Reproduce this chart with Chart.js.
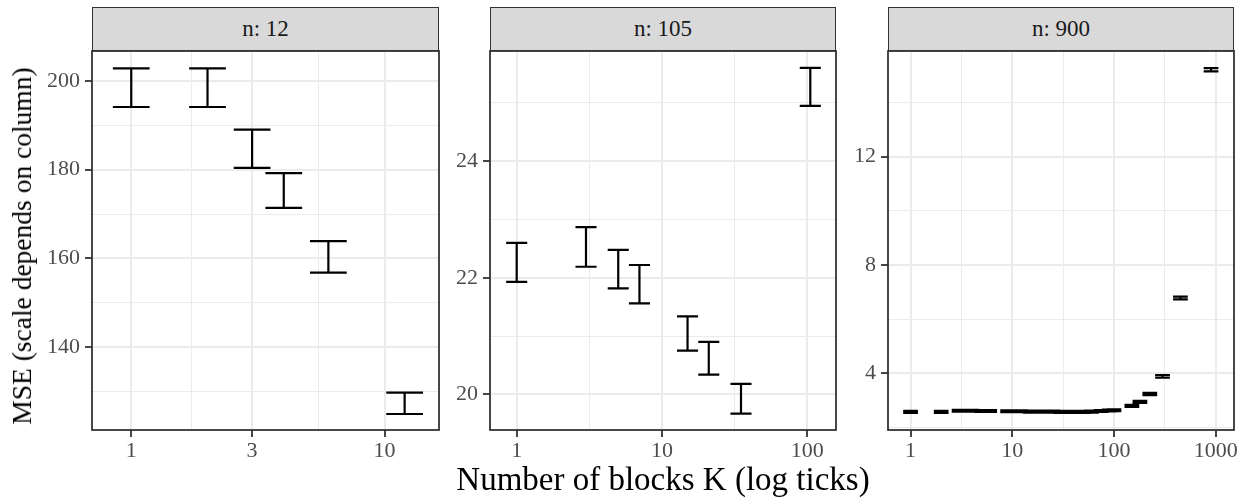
<!DOCTYPE html>
<html>
<head>
<meta charset="utf-8">
<script src="https://cdn.jsdelivr.net/npm/chart.js@4.4.1/dist/chart.umd.min.js"></script>
<style>
  html, body { margin: 0; padding: 0; background: #ffffff; }
  #wrap { position: relative; width: 1248px; height: 502px; overflow: hidden; font-family: "Liberation Serif", serif; }
  canvas { position: absolute; }
  .strip { position: absolute; top: 7px; height: 44px; background: #D9D9D9; border: 1.8px solid #333333; box-sizing: border-box;
           display: flex; align-items: center; justify-content: center; color: #1A1A1A; font-size: 23px; }
  .xtitle { position: absolute; left: 0; width: 1326px; top: 461px; text-align: center; font-size: 33px; color: #000; white-space: nowrap; }
  .ytitle { position: absolute; left: 22px; top: 246px; transform: translate(-50%, -50%) rotate(-90deg); white-space: nowrap; font-size: 27.5px; color: #000; }
</style>
</head>
<body>
<div id="wrap">
  <div class="strip" style="left:92px;width:347px;">n: 12</div>
  <div class="strip" style="left:490px;width:346px;">n: 105</div>
  <div class="strip" style="left:888px;width:346px;">n: 900</div>
  <canvas id="c1" width="422" height="425" style="left:32px;top:45px;"></canvas>
  <canvas id="c2" width="421" height="425" style="left:430px;top:45px;"></canvas>
  <canvas id="c3" width="420" height="425" style="left:828px;top:45px;"></canvas>
  <div class="xtitle">Number of blocks K (log ticks)</div>
  <div class="ytitle">MSE (scale depends on column)</div>
</div>
<script>
// ---------- data ----------
const K12  = [1, 2, 3, 4, 6, 12];
const lo12 = [194.1, 194.1, 180.4, 171.4, 156.8, 125.0];
const hi12 = [202.8, 202.8, 189.0, 179.2, 163.9, 129.8];

const K105  = [1, 3, 5, 7, 15, 21, 35, 105];
const lo105 = [21.93, 22.19, 21.82, 21.56, 20.75, 20.34, 19.67, 24.95];
const hi105 = [22.60, 22.87, 22.48, 22.22, 21.34, 20.90, 20.18, 25.60];

const K900  = [1, 2, 3, 4, 5, 6, 9, 10, 12, 15, 18, 20, 25, 30, 36, 45, 50, 60, 75, 90, 100, 150, 180, 225, 300, 450, 900];
const lo900 = [2.545, 2.545, 2.585, 2.585, 2.575, 2.575, 2.565, 2.565, 2.565, 2.555, 2.555, 2.555, 2.555, 2.545, 2.545, 2.545, 2.545, 2.555, 2.575, 2.595, 2.605, 2.76, 2.91, 3.20, 3.84, 6.73, 15.15];
const hi900 = [2.615, 2.615, 2.655, 2.655, 2.645, 2.645, 2.635, 2.635, 2.635, 2.625, 2.625, 2.625, 2.625, 2.615, 2.615, 2.615, 2.615, 2.625, 2.645, 2.665, 2.675, 2.84, 2.99, 3.28, 3.94, 6.83, 15.27];

// tick labels (major) and minor grid values
const xMajor12 = [1, 3, 10],      xMinor12 = [1.732, 5.477];
const xMajor105 = [1, 10, 100],   xMinor105 = [3.162, 31.62];
const xMajor900 = [1, 10, 100, 1000], xMinor900 = [3.162, 31.62, 316.2];
const yMajor12 = [140, 160, 180, 200], yMinor12 = [130, 150, 170, 190];
const yMajor105 = [20, 22, 24],       yMinor105 = [21, 23, 25];
const yMajor900 = [4, 8, 12],         yMinor900 = [2, 6, 10, 14];

// axis limits
const xLim12 = [0.733, 16.4],  yLim12 = [121.4, 206.7];
const xLim105 = [0.655, 157.8], yLim105 = [19.39, 25.89];
const xLim900 = [0.60, 1514],  yLim900 = [1.91, 15.9];

// ---------- helpers ----------
const CAP = Math.pow(10, 0.0725);
const FONT = 'Liberation Serif';

function errorSegments(K, lo, hi) {
  const pts = [];
  K.forEach((k, i) => {
    pts.push({x: k / CAP, y: hi[i]}, {x: k * CAP, y: hi[i]}, {x: k, y: null});
    pts.push({x: k / CAP, y: lo[i]}, {x: k * CAP, y: lo[i]}, {x: k, y: null});
    pts.push({x: k, y: hi[i]}, {x: k, y: lo[i]}, {x: k, y: null});
  });
  return pts;
}

const framePlugin = {
  id: 'frame',
  afterDraw(chart) {
    const {ctx, chartArea: a} = chart;
    ctx.save();
    ctx.strokeStyle = '#333333';
    ctx.lineWidth = 1.8;
    ctx.strokeRect(a.left, a.top, a.right - a.left, a.bottom - a.top);
    ctx.restore();
  }
};

function axisCfg(type, lim, major, minor, isX) {
  const all = major.concat(minor).sort((a, b) => a - b);
  const isMajor = v => major.some(m => Math.abs(m - v) < 1e-9);
  return {
    type: type,
    min: lim[0], max: lim[1],
    afterBuildTicks: s => { s.ticks = all.map(v => ({value: v})); },
    afterFit: s => {
      if (isX) { s.height = 40; s.paddingLeft = 0; s.paddingRight = 0; }
      else { s.width = 60; s.paddingTop = 0; s.paddingBottom = 0; }
    },
    border: { display: false },
    grid: {
      drawOnChartArea: true,
      drawTicks: true,
      tickLength: 7,
      color: '#EBEBEB',
      lineWidth: ctx => (ctx.tick && isMajor(ctx.tick.value)) ? 2 : 1,
      tickColor: ctx => (ctx.tick && isMajor(ctx.tick.value)) ? '#333333' : 'rgba(0,0,0,0)',
      tickWidth: 1.8
    },
    ticks: {
      autoSkip: false,
      maxRotation: 0,
      minRotation: 0,
      padding: isX ? 1 : 5,
      color: '#4D4D4D',
      font: { family: FONT, size: 22 },
      callback: v => isMajor(v) ? String(v) : ''
    }
  };
}

function makeChart(id, K, lo, hi, xLim, yLim, xMaj, xMin, yMaj, yMin, padRight) {
  new Chart(document.getElementById(id), {
    type: 'line',
    data: {
      datasets: [{
        data: errorSegments(K, lo, hi),
        borderColor: '#000000',
        borderWidth: 2.2,
        borderCapStyle: 'butt',
        pointRadius: 0,
        spanGaps: false,
        tension: 0
      }]
    },
    options: {
      responsive: false,
      animation: false,
      layout: { padding: { top: 6, right: padRight, left: 0, bottom: 0 } },
      plugins: { legend: { display: false }, tooltip: { enabled: false } },
      scales: {
        x: axisCfg('logarithmic', xLim, xMaj, xMin, true),
        y: axisCfg('linear', yLim, yMaj, yMin, false)
      }
    },
    plugins: [framePlugin]
  });
}

makeChart('c1', K12, lo12, hi12, xLim12, yLim12, xMajor12, xMinor12, yMajor12, yMinor12, 15);
makeChart('c2', K105, lo105, hi105, xLim105, yLim105, xMajor105, xMinor105, yMajor105, yMinor105, 15);
makeChart('c3', K900, lo900, hi900, xLim900, yLim900, xMajor900, xMinor900, yMajor900, yMinor900, 14);
</script>
</body>
</html>
